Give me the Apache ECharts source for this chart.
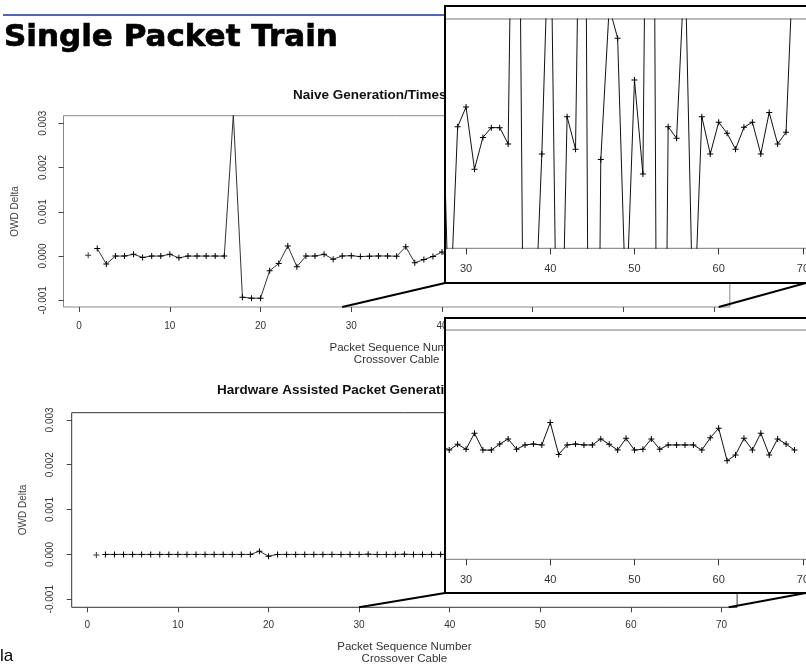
<!DOCTYPE html>
<html>
<head>
<meta charset="utf-8">
<script src="https://cdn.jsdelivr.net/npm/echarts@6/dist/echarts.min.js"></script>
<style>
html, body { margin: 0; padding: 0; background: #fff; }
#main { width: 806px; height: 666px; }
</style>
</head>
<body>
<div id="main"></div>
<script>
var chart = echarts.init(document.getElementById('main'));

// packet sequence numbers
var seq = [1,2,3,4,5,6,7,8,9,10,11,12,13,14,15,16,17,18,19,20,21,22,23,24,25,26,27,28,29,30,
  31,32,33,34,35,36,37,38,39,40,41,42,43,44,45,46,47,48,49,50,51,52,53,54,55,56,57,58,59,60,
  61,62,63,64,65,66,67,68,69];

// OWD delta (s), naive generation / timestamping
var naiveDelta = [0.00002, 0.00017, -0.00018, 0, 0, 0.00004, -0.00003, 0, 0, 0.00004,
  -0.00004, 0, 0, 0, 0, 0, 0.0032, -0.00093, -0.00095, -0.00095,
  -0.00033, -0.00017, 0.00023, -0.00024, 0, 0, 0.00004, -0.00007, 2.4e-6, 9.3e-6,
  -12.4e-6, -1.3e-6, 2.1e-6, 2.1e-6, -3.6e-6, 0.00021, -0.00015, -0.00008, -7.1e-6, 0.00009,
  -0.000133, 5.9e-6, -5.4e-6, 0.0002, -0.00035, -9.0e-6, 44.2e-6, 33.3e-6, -0.000063, 18.7e-6,
  -14.1e-6, 0.000284, -0.000309, 2.4e-6, -1.6e-6, 0.000061, -0.000072, 5.9e-6, -7.1e-6, 4.0e-6,
  0.1e-6, -5.4e-6, 2.2e-6, 4.0e-6, -7.1e-6, 7.4e-6, -3.6e-6, 0.5e-6, 0.000071];

// OWD delta (s), hardware assisted generation / timestamping
var hwDelta = [-0.000015, 0, 0, 0, 0, 0, 0, 0, 0, 0,
  0, 0, 0, 0, 0, 0, 0, 0, 0.00007, -0.00004,
  0, 0, 0, 0, 0, 0, 0, -1.9e-6, 0.1e-6, -1.6e-6,
  4.0e-6, -1.9e-6, -1.9e-6, 0.2e-6, 2.0e-6, -1.6e-6, -0.1e-6, 0.2e-6, -0.1e-6, 7.7e-6,
  -3.4e-6, -0.1e-6, 0.2e-6, -0.1e-6, -0.1e-6, 2.0e-6, 0.1e-6, -1.9e-6, 2.2e-6, -1.9e-6,
  -1.6e-6, 2.0e-6, -1.6e-6, -0.1e-6, -0.1e-6, -0.1e-6, -0.1e-6, -1.9e-6, 2.4e-6, 5.7e-6,
  -5.6e-6, -3.6e-6, 2.2e-6, -1.9e-6, 4.0e-6, -3.6e-6, 2.0e-6, 0.2e-6, -1.9e-6];

var xTicks = [0, 10, 20, 30, 40, 50, 60, 70];
var insetTicks = [30, 40, 50, 60, 70];
var yTicks = [-0.001, 0, 0.001, 0.002, 0.003];
var zoomTop = [29, 70.5];
var zoomBottom = [30, 70.8];

var FONT = 'Liberation Sans';
var plus = 'path://M2.5,0H3.5V2.5H6V3.5H3.5V6H2.5V3.5H0V2.5H2.5Z';

function pairs(vals, from, to) {
  var out = [];
  for (var i = from; i < to; i++) out.push([seq[i], vals[i]]);
  return out;
}

function mainX(grid, min, max, margin, gap) {
  return {
    type: 'value', gridIndex: grid, min: min, max: max,
    axisLine: { show: false, onZero: false },
    splitLine: { show: false },
    axisTick: { customValues: xTicks, length: 5, lineStyle: { color: '#444' } },
    axisLabel: { customValues: xTicks, margin: margin, fontSize: 10, color: '#333', fontFamily: FONT },
    name: 'Packet Sequence Number\nCrossover Cable',
    nameLocation: 'middle', nameGap: gap,
    nameTextStyle: { fontSize: 11.5, color: '#333', fontFamily: FONT, lineHeight: 12 }
  };
}
function mainY(grid, min, max, margin) {
  return {
    type: 'value', gridIndex: grid, min: min, max: max,
    axisLine: { show: false, onZero: false },
    splitLine: { show: false },
    axisTick: { customValues: yTicks, length: 5, lineStyle: { color: '#444' } },
    axisLabel: {
      customValues: yTicks, rotate: 90, margin: margin, fontSize: 10, color: '#333', fontFamily: FONT,
      formatter: function (v) { return v.toFixed(3); }
    },
    name: 'OWD Delta', nameLocation: 'middle', nameGap: 43, nameRotate: 90,
    nameTextStyle: { fontSize: 10, color: '#444', fontFamily: FONT }
  };
}
function insetX(grid) {
  return {
    type: 'value', gridIndex: grid, min: 27.5, max: 75, z: 22,
    axisLine: { show: false, onZero: false },
    splitLine: { show: false },
    axisTick: { customValues: insetTicks, length: 6, lineStyle: { color: '#333' } },
    axisLabel: { customValues: insetTicks, margin: 15, fontSize: 11, color: '#333', fontFamily: FONT }
  };
}
function insetY(grid) {
  return {
    type: 'value', gridIndex: grid, min: -0.00004, max: 0.00004, z: 22,
    axisLine: { show: false, onZero: false }, axisTick: { show: false },
    axisLabel: { show: false }, splitLine: { show: false }
  };
}
function lineSeries(xi, vals, z, size, color) {
  return {
    type: 'line', xAxisIndex: xi, yAxisIndex: xi, z: z,
    data: pairs(vals, 1, vals.length),
    symbol: plus, symbolSize: size, showAllSymbol: true,
    lineStyle: { color: color, width: 1 },
    itemStyle: { color: '#000' },
    animation: false
  };
}
function firstPoint(xi, vals, z) {
  return {
    type: 'scatter', xAxisIndex: xi, yAxisIndex: xi, z: z,
    data: pairs(vals, 0, 1), symbol: plus, symbolSize: 6,
    itemStyle: { color: '#000' }, animation: false
  };
}

var option = {
  backgroundColor: '#fff',
  animation: false,
  title: [
    { text: 'Single Packet Train', left: 4, top: 22, padding: 0,
      textStyle: { fontSize: 31, fontWeight: 'bold', fontFamily: 'DejaVu Sans', color: '#000',
        textBorderColor: '#000', textBorderWidth: 0.7 } },
    { text: 'Naive Generation/Timestamping', left: 293, top: 88, padding: 0,
      textStyle: { fontSize: 13.5, fontWeight: 'bold', fontFamily: FONT, color: '#111' } },
    { text: 'Hardware Assisted Packet Generation/Timestamping', left: 217, top: 383, padding: 0,
      textStyle: { fontSize: 13.5, fontWeight: 'bold', fontFamily: FONT, color: '#111' } }
  ],
  grid: [
    { left: 63.5, top: 115.7, width: 666.3, height: 191.3, show: true, borderColor: '#888', borderWidth: 1, outerBoundsMode: 'none' },
    { left: 445, top: 19, width: 400, height: 229.3, show: true, backgroundColor: '#fff', borderColor: '#777', borderWidth: 1, z: 21, outerBoundsMode: 'none' },
    { left: 71.7, top: 412.7, width: 665.4, height: 194.6, show: true, borderColor: '#333', borderWidth: 1, outerBoundsMode: 'none' },
    { left: 445, top: 330, width: 400, height: 229.3, show: true, backgroundColor: '#fff', borderColor: '#777', borderWidth: 1, z: 21, outerBoundsMode: 'none' }
  ],
  xAxis: [
    mainX(0, -1.72, 71.72, 14, 35),
    insetX(1),
    mainX(2, -1.72, 71.72, 13, 34),
    insetX(3)
  ],
  yAxis: [
    mainY(0, -0.00115, 0.00317, 15),
    insetY(1),
    mainY(2, -0.00118, 0.00316, 16),
    insetY(3)
  ],
  series: [
    lineSeries(0, naiveDelta, 2, 6, '#333'),
    firstPoint(0, naiveDelta, 2),
    lineSeries(1, naiveDelta, 23, 6, '#111'),
    lineSeries(2, hwDelta, 2, 6, '#333'),
    firstPoint(2, hwDelta, 2),
    lineSeries(3, hwDelta, 23, 6, '#111')
  ],
  graphic: [
    { id: 'rule', type: 'line', z: 1, shape: { x1: 3, y1: 15, x2: 806, y2: 15 },
      style: { stroke: '#1532b0', lineWidth: 1.4 } },
    { id: 'foot', type: 'text', z: 1, left: 0, top: 648,
      style: { text: 'la', fontSize: 17, fontFamily: FONT, fill: '#000' } },
    { id: 'bgTop', type: 'rect', z: 20, shape: { x: 445, y: 6, width: 380, height: 277 },
      style: { fill: '#fff' } },
    { id: 'bgBottom', type: 'rect', z: 20, shape: { x: 445, y: 318, width: 380, height: 275 },
      style: { fill: '#fff' } },
    { id: 'boxTop', type: 'rect', z: 30, shape: { x: 445, y: 6, width: 380, height: 277 },
      style: { fill: null, stroke: '#000', lineWidth: 2 } },
    { id: 'boxBottom', type: 'rect', z: 30, shape: { x: 445, y: 318, width: 380, height: 275 },
      style: { fill: null, stroke: '#000', lineWidth: 2 } }
  ]
};

chart.setOption(option);

// connector lines from the zoomed x-range of each main plot to its inset
function connectors(gridIndex, range, yMin, insetBottom, tag) {
  var a = chart.convertToPixel({ gridIndex: gridIndex }, [range[0], yMin]);
  var b = chart.convertToPixel({ gridIndex: gridIndex }, [range[1], yMin]);
  var st = { stroke: '#000', lineWidth: 2 };
  return [
    { id: tag + 'L', type: 'line', z: 30, shape: { x1: a[0], y1: a[1], x2: 445, y2: insetBottom }, style: st },
    { id: tag + 'R', type: 'line', z: 30, shape: { x1: b[0], y1: b[1], x2: 806, y2: insetBottom }, style: st }
  ];
}
chart.setOption({
  graphic: connectors(0, zoomTop, -0.00115, 283, 'ct').concat(connectors(2, zoomBottom, -0.00118, 593, 'cb'))
});
</script>
</body>
</html>
